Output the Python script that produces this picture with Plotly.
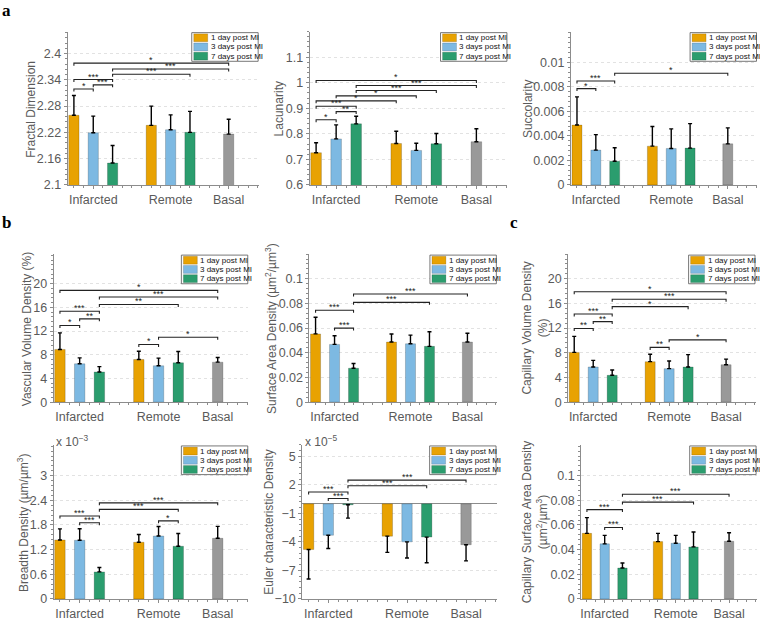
import plotly.graph_objects as go

# ---------------- data ----------------
positions = [1, 2, 3, 5, 6, 7, 9]
group_ticks = [2, 6, 9]
group_labels = ["Infarcted", "Remote", "Basal"]
series_names = ["1 day post MI", "3 days post MI", "7 days post MI", "Basal"]
series_members = [[0, 3], [1, 4], [2, 5], [6]]
series_colors = ["#E8A202", "#7DB9E2", "#2B9D6E", "#999999"]

fractal_mean = [2.259, 2.219, 2.150, 2.236, 2.226, 2.220, 2.216]
fractal_sd = [0.045, 0.038, 0.040, 0.044, 0.034, 0.048, 0.034]
fractal_sig = [(0, 1, 2.319, "*"), (1, 2, 2.3285, "***"), (0, 2, 2.3407, "***"),
               (2, 5, 2.3526, "***"), (2, 6, 2.3646, "***"), (0, 6, 2.378, "*")]

lacunarity_mean = [0.726, 0.780, 0.839, 0.762, 0.735, 0.761, 0.769]
lacunarity_sd = [0.039, 0.055, 0.030, 0.048, 0.028, 0.040, 0.051]
lacunarity_sig = [(0, 1, 0.855, "*"), (1, 2, 0.887, "**"), (0, 2, 0.9077, "***"),
                  (0, 3, 0.929, "*"), (1, 4, 0.9487, "*"), (2, 5, 0.9695, "***"),
                  (2, 6, 0.989, "***"), (0, 6, 1.009, "*")]

succolarity_mean = [0.00488, 0.00284, 0.00193, 0.00316, 0.00297, 0.00300, 0.00335]
succolarity_sd = [0.0023, 0.00126, 0.0011, 0.0016, 0.0016, 0.0020, 0.0013]
succolarity_sig = [(0, 1, 0.00785, "*"), (0, 2, 0.00847, "***"), (2, 6, 0.00911, "*")]

vascular_mean = [8.9, 6.47, 5.1, 7.2, 6.14, 6.64, 6.75]
vascular_sd = [2.8, 1.0, 0.9, 1.4, 1.3, 1.9, 0.8]
vascular_sig = [(0, 1, 12.95, "*"), (1, 2, 14.06, "**"), (0, 2, 15.34, "***"),
                (2, 5, 16.5, "**"), (2, 6, 17.76, "***"), (0, 6, 18.87, "*"),
                (3, 4, 9.74, "*"), (4, 6, 10.95, "*")]

surface_mean = [0.0553, 0.0468, 0.0275, 0.0487, 0.0473, 0.0452, 0.0487]
surface_sd = [0.0135, 0.0070, 0.0038, 0.0065, 0.0070, 0.0118, 0.0072]
surface_sig = [(0, 2, 0.0745, "***"), (1, 2, 0.060, "***"),
               (2, 5, 0.0809, "***"), (2, 6, 0.0876, "***")]

capvol_mean = [8.06, 5.7, 4.35, 6.56, 5.43, 5.7, 6.07]
capvol_sd = [2.6, 1.07, 0.85, 1.2, 1.24, 2.0, 0.9]
capvol_sig = [(0, 1, 11.94, "**"), (1, 2, 13.06, "**"), (0, 2, 14.3, "***"),
              (2, 5, 15.48, "*"), (2, 6, 16.67, "***"), (0, 6, 17.9, "*"),
              (3, 4, 8.87, "**"), (4, 6, 10.1, "*")]

breadth_mean = [1.436, 1.428, 0.658, 1.38, 1.532, 1.283, 1.476]
breadth_sd = [0.27, 0.28, 0.105, 0.19, 0.23, 0.31, 0.29]
breadth_sig = [(0, 2, 2.02, "***"), (1, 2, 1.853, "***"), (2, 5, 2.18, "***"),
               (2, 6, 2.34, "***"), (4, 5, 1.90, "*")]

euler_mean = [-4.8, -3.3, -0.1, -3.4, -4.0, -3.5, -4.3]
euler_sd = [3.1, 1.4, 1.4, 1.7, 1.7, 2.7, 1.7]
euler_sig = [(0, 2, 1.25, "***"), (1, 2, 0.56, "***"), (2, 5, 1.9, "***"), (2, 6, 2.5, "***")]

capsurf_mean = [0.0532, 0.0447, 0.0251, 0.0465, 0.0452, 0.0422, 0.0468]
capsurf_sd = [0.0128, 0.0069, 0.0040, 0.0067, 0.0064, 0.0121, 0.0069]
capsurf_sig = [(0, 2, 0.0725, "***"), (1, 2, 0.058, "***"), (2, 5, 0.0786, "***"), (2, 6, 0.085, "***")]

fractal_ticks = [2.1, 2.16, 2.22, 2.28, 2.34, 2.4]
lacunarity_ticks = [0.6, 0.7, 0.8, 0.9, 1.0, 1.1]
succolarity_ticks = [0, 0.002, 0.004, 0.006, 0.008, 0.01]
percent_ticks = [0, 4, 8, 12, 16, 20]
surface_ticks = [0, 0.02, 0.04, 0.06, 0.08, 0.1]
breadth_ticks = [0, 0.6, 1.2, 1.8, 2.4, 3]
euler_ticks = [-10, -7, -4, -1, 2, 5]

# ---------------- layout geometry (pixels) ----------------
W, H = 760, 623
TXT = "#5a5a5a"
FONT = "Liberation Sans, Arial, sans-serif"

panels = [
    dict(mean=fractal_mean, sd=fractal_sd, sig=fractal_sig, yr=[2.1, 2.45], ticks=fractal_ticks,
         minor=0.012, px=(66.8, 258), py=(32, 187),
         title="Fractal Dimension", tpos=(30, 110)),
    dict(mean=lacunarity_mean, sd=lacunarity_sd, sig=lacunarity_sig, yr=[0.6, 1.2], ticks=lacunarity_ticks,
         minor=0.02, px=(309.1, 507.1), py=(32, 187),
         title="Lacunarity", tpos=(278, 110)),
    dict(mean=succolarity_mean, sd=succolarity_sd, sig=succolarity_sig, yr=[0, 0.0125], ticks=succolarity_ticks,
         minor=0.0004, px=(570.7, 757), py=(32, 187),
         title="Succolarity", tpos=(527, 110)),
    dict(mean=vascular_mean, sd=vascular_sd, sig=vascular_sig, yr=[0, 25], ticks=percent_ticks,
         minor=0.8, px=(52.7, 247.6), py=(257, 406.7),
         title="Vascular Volume Density (%)", tpos=(26, 332)),
    dict(mean=surface_mean, sd=surface_sd, sig=surface_sig, yr=[0, 0.12], ticks=surface_ticks,
         minor=0.004, px=(308.9, 496.5), py=(257, 406.7),
         title="Surface Area Density (µm<sup>2</sup>/µm<sup>3</sup>)", tpos=(271, 332)),
    dict(mean=capvol_mean, sd=capvol_sd, sig=capvol_sig, yr=[0, 24], ticks=percent_ticks,
         minor=0.8, px=(567.9, 755.5), py=(257, 406.7),
         title="Capillary Volume Density<br>(%)", tpos=(535, 332)),
    dict(mean=breadth_mean, sd=breadth_sd, sig=breadth_sig, yr=[0, 3.75], ticks=breadth_ticks,
         minor=0.12, px=(52.7, 247.6), py=(450, 605.7),
         title="Breadth Density (µm/µm<sup>3</sup>)", tpos=(22, 528), mult=("x 10<sup>−3</sup>", 53, 446)),
    dict(mean=euler_mean, sd=euler_sd, sig=euler_sig, yr=[-10, 6.2], ticks=euler_ticks,
         minor=0.6, px=(301.7, 496.2), py=(450, 605.7),
         title="Euler characteristic Density", tpos=(268, 528), mult=("x 10<sup>−5</sup>", 302, 446),
         zero=True),
    dict(mean=capsurf_mean, sd=capsurf_sd, sig=capsurf_sig, yr=[0, 0.125], ticks=surface_ticks,
         minor=0.004, px=(581, 756.6), py=(450, 605.7),
         title="Capillary Surface Area Density<br>(µm<sup>2</sup>/µm<sup>3</sup>)", tpos=(535, 528)),
]

XR = [0.68, 10.55]


def fmt(v):
    s = ("%.4f" % v).rstrip("0").rstrip(".")
    if s.startswith("-"):
        s = "\u2212" + s[1:]
    return s if s != "\u22120" else "0"


def pxx(x):
    return x / W


def pxy(y):
    return 1 - y / H


fig = go.Figure()
layout = dict(width=W, height=H, margin=dict(l=0, r=0, t=0, b=0),
              paper_bgcolor="white", plot_bgcolor="white", showlegend=False,
              font=dict(family=FONT, color=TXT), bargap=0)
shapes, annotations = [], []

for k, p in enumerate(panels, start=1):
    xs = "" if k == 1 else str(k)
    xref, yref = "x" + xs, "y" + xs
    # bars
    for name, members, color in zip(series_names, series_members, series_colors):
        xv = [positions[i] for i in members]
        yv = [p["mean"][i] for i in members]
        up = [p["sd"][i] if p["mean"][i] >= 0 else 0 for i in members]
        dn = [0 if p["mean"][i] >= 0 else p["sd"][i] for i in members]
        fig.add_trace(go.Bar(
            x=xv, y=yv, width=0.53, name=name, xaxis=xref, yaxis=yref,
            marker=dict(color=color, line=dict(color="rgba(0,0,0,0.3)", width=0.6)),
            error_y=dict(type="data", symmetric=False, array=up, arrayminus=dn,
                         color="black", thickness=1.4, width=2),
            hoverinfo="skip"))
    # significance brackets
    span = p["yr"][1] - p["yr"][0]
    hpx = p["py"][1] - p["py"][0]
    d = 2.5 / hpx * span
    for i, j, yv, lab in p["sig"]:
        xi, xj = positions[i], positions[j]
        fig.add_trace(go.Scatter(
            x=[xi, xi, xj, xj], y=[yv - d, yv, yv, yv - d], mode="lines",
            line=dict(color="#222222", width=1.1), xaxis=xref, yaxis=yref,
            hoverinfo="skip", showlegend=False))
        annotations.append(dict(x=(xi + xj) / 2, y=yv, xref=xref, yref=yref, text=lab,
                                showarrow=False, yanchor="bottom", yshift=-4,
                                font=dict(size=9, color="#222222")))
    # axes
    layout["xaxis" + xs] = dict(
        domain=[pxx(p["px"][0]), pxx(p["px"][1])], anchor=yref, range=XR,
        tickvals=group_ticks, ticktext=group_labels, showline=True, linecolor="#8c8c8c",
        linewidth=1, ticks="outside", ticklen=3, tickcolor="#8c8c8c", showgrid=False,
        zeroline=False, tickfont=dict(size=12.5, color=TXT, family=FONT),
        minor=dict(dtick=0.5, tick0=0, ticks="outside", ticklen=2, tickcolor="#8c8c8c"),
        fixedrange=True)
    layout["yaxis" + xs] = dict(
        domain=[pxy(p["py"][1]), pxy(p["py"][0])], anchor=xref, range=p["yr"],
        tickvals=p["ticks"], ticktext=[fmt(v) for v in p["ticks"]], showline=True,
        linecolor="#8c8c8c", linewidth=1, ticks="outside", ticklen=3, tickcolor="#8c8c8c",
        showgrid=True, gridcolor="#e2e2e2", griddash="dot", gridwidth=1,
        zeroline=bool(p.get("zero")), zerolinecolor="#8c8c8c", zerolinewidth=1,
        tickfont=dict(size=12.5, color=TXT, family=FONT),
        minor=dict(dtick=p["minor"], tick0=p["yr"][0], ticks="outside", ticklen=2,
                   tickcolor="#8c8c8c", showgrid=False),
        fixedrange=True)
    # y title
    annotations.append(dict(x=pxx(p["tpos"][0]), y=pxy(p["tpos"][1]), xref="paper", yref="paper",
                            text=p["title"], textangle=-90, showarrow=False,
                            xanchor="center", yanchor="middle",
                            font=dict(size=12, color=TXT, family=FONT)))
    if "mult" in p:
        t, mx, my = p["mult"]
        annotations.append(dict(x=pxx(mx), y=pxy(my), xref="paper", yref="paper", text=t,
                                showarrow=False, xanchor="left", yanchor="middle",
                                font=dict(size=12, color=TXT, family=FONT)))
    # manual legend
    lx1 = p["px"][1] - 0.5
    lx0 = lx1 - 66.5
    ly0 = p["py"][0] + 1
    shapes.append(dict(type="rect", xref="paper", yref="paper", x0=pxx(lx0), x1=pxx(lx1),
                       y0=pxy(ly0), y1=pxy(ly0 + 29), line=dict(color="#555555", width=0.8),
                       fillcolor="white", layer="above"))
    for r in range(3):
        cy = ly0 + 5.2 + r * 9.3
        shapes.append(dict(type="rect", xref="paper", yref="paper",
                           x0=pxx(lx0 + 2), x1=pxx(lx0 + 16), y0=pxy(cy - 4), y1=pxy(cy + 4),
                           line=dict(color="rgba(0,0,0,0.3)", width=0.5),
                           fillcolor=series_colors[r], layer="above"))
        annotations.append(dict(x=pxx(lx0 + 17), y=pxy(cy), xref="paper", yref="paper",
                                text=series_names[r], showarrow=False, xanchor="left",
                                yanchor="middle", font=dict(size=8, color="#111111", family=FONT)))

# panel letters
for letter, lx, ly in [("a", 6, 11), ("b", 6, 225), ("c", 514, 225)]:
    annotations.append(dict(x=pxx(lx), y=pxy(ly), xref="paper", yref="paper", text="<b>%s</b>" % letter,
                            showarrow=False, xanchor="center", yanchor="middle",
                            font=dict(size=17, color="black", family="Liberation Serif, Times New Roman, serif")))

layout["shapes"] = shapes
layout["annotations"] = annotations
fig.update_layout(**layout)

fig.write_html("out.html", config={"displayModeBar": False, "staticPlot": True},
               post_script="document.body.style.margin='0';")
